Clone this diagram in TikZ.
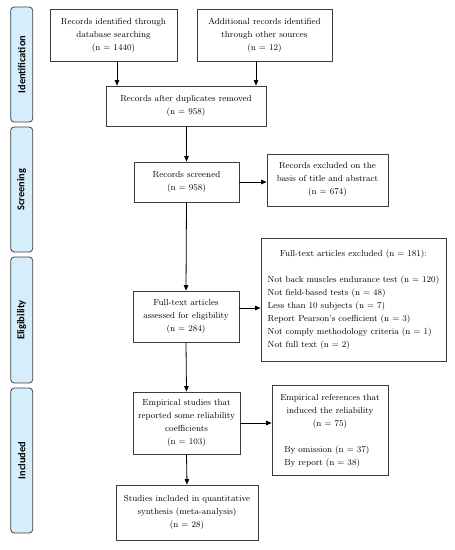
\documentclass[tikz,border=0pt]{standalone}
\usepackage{fontspec}
\newfontfamily\sidefont{Carlito}
\usetikzlibrary{arrows.meta}
\definecolor{sideblue}{RGB}{214,238,251}
\definecolor{boxline}{RGB}{60,60,60}
\begin{document}
\begin{tikzpicture}[x=1pt,y=-1pt,
  box/.style n args={2}{draw=boxline, line width=0.8pt, align=center, inner sep=2pt,
    font=\fontsize{8.8}{13}\selectfont, minimum width=#1, minimum height=#2},
  side/.style={draw=black!75, fill=sideblue, rounded corners=3.5pt, line width=0.8pt,
    rotate=90, minimum height=22pt, inner sep=0pt,
    font=\sidefont\bfseries\fontsize{10.4}{12}\selectfont},
  arr/.style={-{Triangle[length=5.5pt,width=4.5pt]}, line width=0.8pt, draw=black}]
\useasboundingbox (0,0) rectangle (455,550);
% sidebars
\node[side, minimum width=115pt] (s1) at (21.7,64.5) {Identification};
\node[side, minimum width=125pt] (s2) at (21.7,189.5) {Screening};
\node[side, minimum width=126pt] (s3) at (21.7,320) {Eligibility};
\node[side, minimum width=145pt] (s4) at (21.7,460.5) {Included};
% boxes
\node[box={127pt}{52pt}] (b1) at (113.5,35) {Records identified through\\database searching\\(n = 1440)};
\node[box={135pt}{52pt}] (b2) at (264.5,35) {Additional records identified\\through other sources\\(n = 12)};
\node[box={160pt}{40pt}] (b3) at (186,106) {Records after duplicates removed\\(n = 958)};
\node[box={105pt}{40pt}] (b4) at (186.5,182) {Records screened\\(n = 958)};
\node[box={121pt}{52pt}] (b5) at (327.5,180) {Records excluded on the\\basis of title and abstract\\(n = 674)};
\node[box={185pt}{123pt}] (b6) at (353.5,299.5)
  {\begin{tabular}{@{}l@{}}
   \multicolumn{1}{@{}c@{}}{Full-text articles excluded (n = 181):}\\[13pt]
   Not back muscles endurance test (n = 120)\\
   Not field-based tests (n = 48)\\
   Less than 10 subjects (n = 7)\\
   Report Pearson's coefficient (n = 3)\\
   Not comply methodology criteria (n = 1)\\
   Not full text (n = 2)
   \end{tabular}};
\node[box={106pt}{51pt}] (b7) at (186,316.5) {Full-text articles\\assessed for eligibility\\(n = 284)};
\node[box={107pt}{62pt}] (b8) at (186.5,423) {Empirical studies that\\reported some reliability\\coefficients\\(n = 103)};
\node[box={116pt}{90pt}] (b9) at (330,430)
  {\begin{tabular}{@{}l@{}}
   \multicolumn{1}{@{}c@{}}{Empirical references that}\\
   \multicolumn{1}{@{}c@{}}{induced the reliability}\\
   \multicolumn{1}{@{}c@{}}{(n = 75)}\\[13pt]
   \hspace*{4pt}By omission (n = 37)\\
   \hspace*{4pt}By report (n = 38)
   \end{tabular}};
\node[box={142pt}{55pt}] (b10) at (187,512.5) {Studies included in quantitative\\synthesis (meta-analysis)\\(n = 28)};
% connectors
\coordinate (c1) at (117,0);
\coordinate (c2) at (256,0);
\draw[arr] (b1.south -| c1) -- (b3.north -| c1);
\draw[arr] (b2.south -| c2) -- (b3.north -| c2);
\draw[arr] (b3.south -| b4) -- (b4.north);
\draw[arr] (b4.east) -- (b4.east -| b5.west);
\draw[arr] (b4.south) -- (b7.north);
\draw[arr] ([yshift=8.5pt]b7.east) -- ([yshift=8.5pt]b7.east -| b6.west);
\draw[arr] (b7.south) -- (b8.north);
\draw[arr] (b8.east) -- (b8.east -| b9.west);
\draw[arr] (b8.south) -- (b10.north);
\end{tikzpicture}
\end{document}
